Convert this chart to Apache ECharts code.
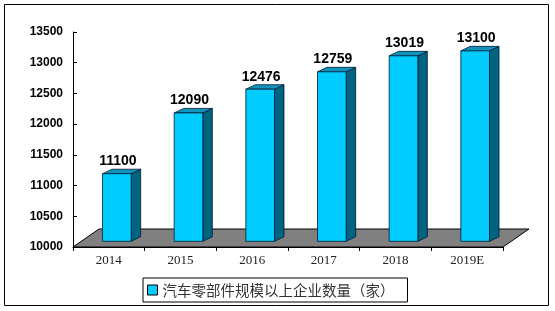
<!DOCTYPE html>
<html lang="zh">
<head>
<meta charset="UTF-8">
<title>汽车零部件规模以上企业数量</title>
<script src="https://cdn.jsdelivr.net/npm/echarts@6/dist/echarts.min.js"></script>
<style>
  html, body { margin: 0; padding: 0; background: #fff; }
  #main { width: 555px; height: 311px; }
</style>
</head>
<body>
<div id="main"></div>
<script>
// 数据
var years = ['2014', '2015', '2016', '2017', '2018', '2019E'];
var counts = [11100, 12090, 12476, 12759, 13019, 13100];
var yMin = 10000, yMax = 13500, yStep = 500;
var seriesName = '汽车零部件规模以上企业数量（家）';

var chart = echarts.init(document.getElementById('main'));

// 立体柱子
function renderBar(params, api) {
    var i = api.value(0), v = api.value(1);
    var p = api.coord([i, v]);
    var b = api.coord([i, yMin]);
    var w = api.size([1, 0])[0] * 0.4;
    var ox = 8, oy = -5.7;     // 柱子在地板上的深度位置
    var dx = 9.5, dy = -4.5;   // 柱子厚度
    var x0 = p[0] + ox - w / 2, x1 = x0 + w;
    var yt = p[1] + oy, yb = b[1] + oy;
    var line = { stroke: '#001a33', lineWidth: 0.8 };
    return {
        type: 'group',
        children: [
            { type: 'polygon', shape: { points: [[x1, yt], [x1 + dx, yt + dy], [x1 + dx, yb + dy], [x1, yb]] },
              style: Object.assign({ fill: '#00637F' }, line) },
            { type: 'polygon', shape: { points: [[x0, yt], [x0 + dx, yt + dy], [x1 + dx, yt + dy], [x1, yt]] },
              style: Object.assign({ fill: '#1193BC' }, line) },
            { type: 'rect', shape: { x: x0, y: yt, width: w, height: yb - yt },
              style: Object.assign({ fill: '#00CCFF' }, line) },
            { type: 'text', x: x0 + w / 2 + 1, y: yt + dy - 1,
              style: { text: String(v), align: 'center', verticalAlign: 'bottom',
                       font: 'bold 14px "Liberation Sans", Arial, sans-serif', fill: '#000' } }
        ]
    };
}

// 灰色地板
function renderFloor(params, api) {
    var c = params.coordSys;
    var fx = 26, fy = -18;
    var yb = c.y + c.height;
    return {
        type: 'polygon',
        shape: { points: [[c.x, yb], [c.x + fx, yb + fy], [c.x + c.width + fx, yb + fy], [c.x + c.width, yb]] },
        style: { fill: '#808080', stroke: '#000', lineWidth: 1 }
    };
}

var option = {
    animation: false,
    graphic: [{
        type: 'rect', silent: true,
        shape: { x: 4.5, y: 4.5, width: 544, height: 301 },
        style: { fill: 'none', stroke: '#000', lineWidth: 1 }
    }],
    grid: { left: 73, right: 52, top: 32, bottom: 64 },
    legend: {
        left: 143, top: 278,
        padding: [4, 13, 4, 4],
        borderColor: '#000', borderWidth: 1,
        itemWidth: 10, itemHeight: 10, itemGap: 6,
        icon: 'rect',
        textStyle: { fontFamily: '"Noto Sans CJK SC", sans-serif', fontSize: 14.5, color: '#333', lineHeight: 16 },
        data: [{ name: seriesName, itemStyle: { color: '#00CCFF', borderColor: '#000', borderWidth: 1 } }]
    },
    xAxis: {
        type: 'category',
        data: years,
        axisLine: { lineStyle: { color: '#000' } },
        axisTick: { show: true, length: 4, lineStyle: { color: '#000' } },
        axisLabel: { margin: 7, fontFamily: '"Liberation Serif", serif', fontSize: 13, color: '#222' }
    },
    yAxis: {
        type: 'value',
        min: yMin, max: yMax, interval: yStep,
        splitLine: { show: false },
        axisLine: { show: true, lineStyle: { color: '#000' } },
        axisTick: { show: true, inside: true, length: 4, lineStyle: { color: '#000' } },
        axisLabel: {
            margin: 10, fontFamily: '"Liberation Sans", Arial, sans-serif', fontWeight: 'bold', fontSize: 12, color: '#000',
            formatter: function (v) { return String(v); }
        }
    },
    series: [
        {
            type: 'custom',
            silent: true,
            z: 1,
            renderItem: renderFloor,
            data: [[0, yMin]]
        },
        {
            name: seriesName,
            type: 'custom',
            z: 3,
            itemStyle: { color: '#00CCFF' },
            renderItem: renderBar,
            encode: { x: 0, y: 1 },
            data: counts.map(function (v, i) { return [i, v]; })
        }
    ]
};

chart.setOption(option);
</script>
</body>
</html>
